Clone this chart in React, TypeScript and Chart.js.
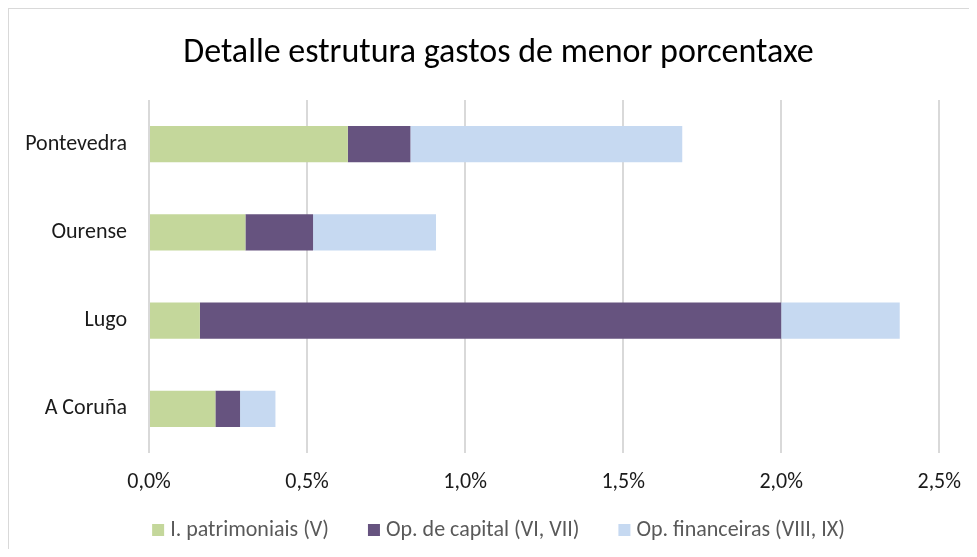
import React, { useEffect, useRef } from "react";
import { Chart, registerables } from "chart.js";

Chart.register(...registerables);

const categories = ["Pontevedra", "Ourense", "Lugo", "A Coruña"];
const patrimoniais = [0.629, 0.305, 0.161, 0.21];
const capital = [0.198, 0.214, 1.839, 0.078];
const financeiras = [0.86, 0.389, 0.375, 0.112];
const seriesNames = ["I. patrimoniais (V)", "Op. de capital (VI, VII)", "Op. financeiras (VIII, IX)"];
const seriesColors = ["#C4D79B", "#66537F", "#C6D9F1"];
const xTicks = [0, 0.5, 1, 1.5, 2, 2.5];
const titleText = "Detalle estrutura gastos de menor porcentaxe";

const FONT = "Carlito, Calibri, Lato, sans-serif";
const LEGEND_FONT_SIZE = 22;
const TITLE_FONT_SIZE = 34;
const CENTER_X = 489.5;

const titleAndLegend = {
  id: "titleAndLegend",
  afterDraw(chart: any) {
    const ctx = chart.ctx;
    const ds = chart.data.datasets;
    ctx.save();
    // title
    ctx.font = `${TITLE_FONT_SIZE}px ${FONT}`;
    ctx.fillStyle = "#000000";
    ctx.textAlign = "center";
    ctx.textBaseline = "middle";
    ctx.fillText(titleText, CENTER_X, 44);
    // legend
    ctx.font = `${LEGEND_FONT_SIZE}px ${FONT}`;
    const box = 12;
    const gapText = 6;
    const gapItem = 39;
    const widths = ds.map((d: any) => ctx.measureText(d.label).width);
    const total =
      widths.reduce((a: number, w: number) => a + box + gapText + w, 0) + gapItem * (ds.length - 1);
    const cy = 521;
    let x = CENTER_X - total / 2;
    ds.forEach((d: any, i: number) => {
      ctx.fillStyle = d.backgroundColor;
      ctx.fillRect(x, cy - box / 2, box, box);
      ctx.fillStyle = "#595959";
      ctx.textBaseline = "middle";
      ctx.textAlign = "left";
      ctx.fillText(d.label, x + box + gapText, cy);
      x += box + gapText + widths[i] + gapItem;
    });
    ctx.restore();
  },
};

export default function App() {
  const ref = useRef<HTMLCanvasElement | null>(null);

  useEffect(() => {
    if (!ref.current) return;
    const chart = new Chart(ref.current, {
      type: "bar",
      data: {
        labels: categories,
        datasets: [patrimoniais, capital, financeiras].map((d, i) => ({
          label: seriesNames[i],
          data: d,
          backgroundColor: seriesColors[i],
          borderWidth: 0,
          barPercentage: 0.41,
          categoryPercentage: 1,
        })),
      },
      plugins: [titleAndLegend],
      options: {
        indexAxis: "y",
        responsive: false,
        animation: false,
        devicePixelRatio: 1,
        layout: { padding: { left: 0, right: 37, top: 91, bottom: 38 } },
        plugins: {
          title: { display: false },
          legend: { display: false },
          tooltip: { enabled: false },
        },
        scales: {
          x: {
            stacked: true,
            min: 0,
            max: 2.5,
            afterBuildTicks: (scale: any) => {
              scale.ticks = xTicks.map((v) => ({ value: v }));
            },
            afterFit: (scale: any) => {
              scale.height = 58;
            },
            ticks: {
              color: "#1a1a1a",
              padding: 16,
              font: { family: FONT, size: 22 },
              callback: (v: any) => Number(v).toFixed(1).replace(".", ",") + "%",
            },
            grid: { color: "#d9d9d9", lineWidth: 2, drawTicks: false },
            border: { display: false },
          },
          y: {
            stacked: true,
            afterFit: (scale: any) => {
              scale.width = 140;
            },
            ticks: {
              color: "#1a1a1a",
              padding: 22,
              font: { family: FONT, size: 22 },
            },
            grid: { display: false, drawTicks: false },
            border: { display: false },
          },
        },
      },
    });
    return () => chart.destroy();
  }, []);

  return (
    <div
      style={{
        width: 968,
        height: 540,
        borderLeft: "1px solid #d9d9d9",
        borderTop: "1px solid #d9d9d9",
        background: "#ffffff",
      }}
    >
      <canvas ref={ref} width={968} height={540} style={{ display: "block", width: 968, height: 540 }} />
    </div>
  );
}
